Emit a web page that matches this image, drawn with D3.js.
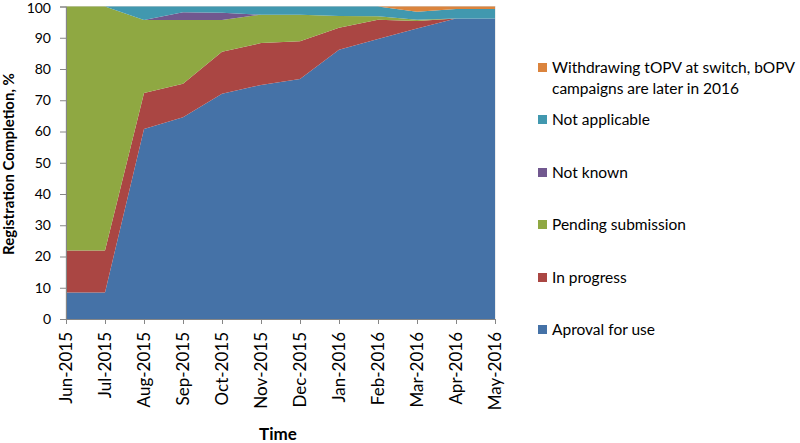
<!DOCTYPE html>
<html><head><meta charset="utf-8">
<script src="https://cdn.jsdelivr.net/npm/d3@7"></script>
<style>body{margin:0;background:#fff}svg{display:block;font-family:Lato,"Open Sans",sans-serif}</style>
</head><body><svg id="c" width="800" height="443"></svg>
<script>
const months = ["Jun-2015","Jul-2015","Aug-2015","Sep-2015","Oct-2015","Nov-2015","Dec-2015","Jan-2016","Feb-2016","Mar-2016","Apr-2016","May-2016"];
const aproval     = [8.5, 8.5, 60.8, 64.6, 72.1, 74.9, 76.8, 86.2, 89.6, 93.0, 96.2, 96.2];
const inProgress  = [13.4, 13.4, 11.5, 10.7, 13.4, 13.4, 12.1, 7.0, 6.2, 2.4, 0, 0];
const pending     = [78.1, 78.1, 23.4, 20.4, 10.2, 9.1, 8.5, 3.8, 1.1, 0.4, 0, 0];
const notKnown    = [0, 0, 0, 2.5, 2.3, 0, 0, 0, 0, 0, 0, 0];
const notApplic   = [0, 0, 4.3, 1.8, 2.0, 2.6, 2.6, 3.0, 3.1, 2.5, 3.0, 3.0];
const withdrawing = [0, 0, 0, 0, 0, 0, 0, 0, 0, 1.7, 0.8, 0.8];
const yTicks = [0,10,20,30,40,50,60,70,80,90,100];

const seriesNames = ["Aproval for use","In progress","Pending submission","Not known","Not applicable","Withdrawing tOPV at switch, bOPV campaigns are later in 2016"];
const seriesVals = [aproval, inProgress, pending, notKnown, notApplic, withdrawing];
const colors = ["#4572A7","#AA4643","#8FA842","#71588F","#4198AF","#DB843D"];

const svg = d3.select("#c");
const m = {l:66, r:305, t:6.5, b:124};
const W = 800, H = 443;
const x = d3.scalePoint().domain(months).range([m.l, W - m.r]);
const y = d3.scaleLinear().domain([0,100]).range([H - m.b, m.t]);

const rows = months.map((mo,i)=>{const o={month:mo}; seriesNames.forEach((s,k)=>o[s]=seriesVals[k][i]); return o;});
const stack = d3.stack().keys(seriesNames)(rows);
const area = d3.area().x(d=>x(d.data.month)).y0(d=>y(d[0])).y1(d=>y(d[1]));

// plot border
svg.append("rect").attr("x",m.l).attr("y",y(100)).attr("width",x.range()[1]-m.l).attr("height",y(0)-y(100))
  .attr("fill","none").attr("stroke","#d9d9d9").attr("stroke-width",1);

svg.append("g").selectAll("path").data(stack).join("path")
  .attr("d",area).attr("fill",(d,i)=>colors[i]);

// y axis
const ya = svg.append("g").attr("transform",`translate(${m.l},0)`)
  .call(d3.axisLeft(y).tickValues(yTicks).tickSize(6).tickPadding(9));
ya.select(".domain").attr("stroke","#868686");
ya.selectAll(".tick line").attr("stroke","#868686");
ya.selectAll("text").attr("font-size",14).attr("fill","#000").attr("font-family","Lato");
ya.selectAll(".tick").filter(d=>d===100).select("text").attr("dy","0.45em");

// x axis
const xa = svg.append("g").attr("transform",`translate(0,${y(0)})`)
  .call(d3.axisBottom(x).tickSize(5).tickPadding(6));
xa.select(".domain").attr("stroke","#868686");
xa.selectAll(".tick line").attr("stroke","#868686");
xa.selectAll("text").attr("font-size",17).attr("fill","#000").attr("font-family","Lato")
  .attr("transform","rotate(-90)").attr("text-anchor","end").attr("dy","0.35em").attr("x",-13).attr("y",0);

// axis titles
svg.append("text").attr("transform","translate(14,164) rotate(-90)").attr("text-anchor","middle")
  .attr("font-size",15).attr("font-weight","bold").text("Registration Completion, %");
svg.append("text").attr("x",278).attr("y",440).attr("text-anchor","middle")
  .attr("font-size",17).attr("font-weight","bold").text("Time");

// legend
const legend = [
  {k:5, y:68, lines:["Withdrawing tOPV at switch, bOPV","campaigns are later in 2016"]},
  {k:4, y:120, lines:["Not applicable"]},
  {k:3, y:173, lines:["Not known"]},
  {k:2, y:225, lines:["Pending submission"]},
  {k:1, y:278, lines:["In progress"]},
  {k:0, y:330, lines:["Aproval for use"]}
];
const lg = svg.append("g").selectAll("g").data(legend).join("g");
lg.append("rect").attr("x",538).attr("y",d=>d.y-5).attr("width",9).attr("height",9).attr("fill",d=>colors[d.k]);
lg.each(function(d){
  const t = d3.select(this).append("text").attr("font-size",15.5).attr("fill","#000");
  d.lines.forEach((l,i)=>t.append("tspan").attr("x",552).attr("y",d.y+i*21).attr("dy","0.35em").text(l));
});
</script></body></html>
